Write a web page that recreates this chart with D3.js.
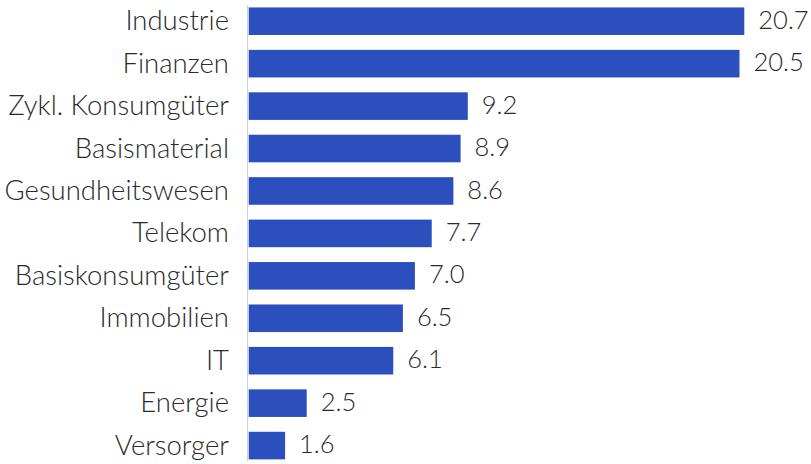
<!DOCTYPE html>
<html><head><meta charset="utf-8">
<script src="https://cdn.jsdelivr.net/npm/d3@7"></script>
<style>html,body{margin:0;padding:0;background:#fff;}svg{display:block;}</style>
</head><body>
<svg id="chart" width="811" height="464"></svg>
<script>
const categories = ["Industrie","Finanzen","Zykl. Konsumgüter","Basismaterial","Gesundheitswesen","Telekom","Basiskonsumgüter","Immobilien","IT","Energie","Versorger"];
const values = [20.7,20.5,9.2,8.9,8.6,7.7,7.0,6.5,6.1,2.5,1.6];
const valueLabels = ["20.7","20.5","9.2","8.9","8.6","7.7","7.0","6.5","6.1","2.5","1.6"];

const svg = d3.select("#chart");
const x = d3.scaleLinear().domain([0, 20.7]).range([246.6, 744.3]);
const y = d3.scaleBand().domain(categories).range([0, 466.8]).paddingInner(0.35).paddingOuter(0.175);
const barStart = x(0) + 2.1;

const font = "Lato, 'Open Sans', sans-serif";

svg.selectAll("rect.bar").data(values).join("rect")
  .attr("class","bar")
  .attr("x", barStart)
  .attr("y", (d,i)=>y(categories[i]))
  .attr("width", d=>x(d)-barStart)
  .attr("height", y.bandwidth())
  .attr("fill", "#2b50bd");

svg.append("line")
  .attr("x1", x(0)+1).attr("x2", x(0)+1)
  .attr("y1", 5).attr("y2", 461)
  .attr("stroke", "#c5cbe0").attr("stroke-width", 1);

svg.selectAll("text.cat").data(categories).join("text")
  .attr("class","cat")
  .attr("x", 229)
  .attr("y", d=>y(d)+y.bandwidth()/2)
  .attr("dy", "0.33em")
  .attr("text-anchor","end")
  .attr("font-family", font)
  .attr("font-weight", 300)
  .attr("font-size", 27.5)
  .attr("fill", "#2a2a2a")
  .text(d=>d);

svg.selectAll("text.val").data(values).join("text")
  .attr("class","val")
  .attr("x", d=>x(d)+14)
  .attr("y", (d,i)=>y(categories[i])+y.bandwidth()/2)
  .attr("dy", "0.3em")
  .attr("font-family", font)
  .attr("font-weight", 300)
  .attr("font-size", 25.5)
  .attr("fill", "#2a2a2a")
  .text((d,i)=>valueLabels[i]);
</script>
</body></html>
